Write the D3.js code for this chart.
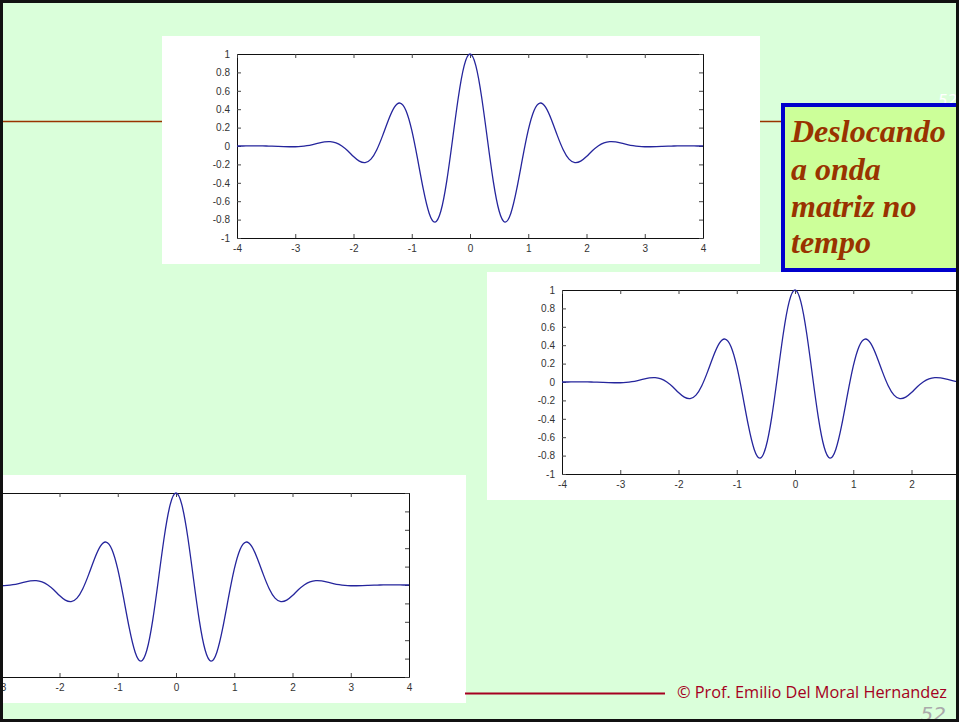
<!DOCTYPE html>
<html>
<head>
<meta charset="utf-8">
<script src="https://cdn.jsdelivr.net/npm/d3@7"></script>
<style>
  html, body { margin: 0; padding: 0; background: #daffda; overflow: hidden; }
  svg { display: block; }
</style>
</head>
<body>
<div id="slide"></div>
<script>
// wavelet samples (t from -4 to 4)
const tValues = [-4.0, -3.9, -3.8, -3.7, -3.6, -3.5, -3.4, -3.3, -3.2, -3.1,
  -3.0, -2.9, -2.8, -2.7, -2.6, -2.5, -2.4, -2.3, -2.2, -2.1,
  -2.0, -1.9, -1.8, -1.7, -1.6, -1.5, -1.4, -1.3, -1.2, -1.1,
  -1.0, -0.9, -0.8, -0.7, -0.6, -0.5, -0.4, -0.3, -0.2, -0.1,
  0.0, 0.1, 0.2, 0.3, 0.4, 0.5, 0.6, 0.7, 0.8, 0.9,
  1.0, 1.1, 1.2, 1.3, 1.4, 1.5, 1.6, 1.7, 1.8, 1.9,
  2.0, 2.1, 2.2, 2.3, 2.4, 2.5, 2.6, 2.7, 2.8, 2.9,
  3.0, 3.1, 3.2, 3.3, 3.4, 3.5, 3.6, 3.7, 3.8, 3.9, 4.0];

const waveValues = [0.000, 0.000, 0.001, 0.001, 0.001, 0.000, -0.001, -0.003, -0.006, -0.008,
  -0.008, -0.005, 0.003, 0.016, 0.031, 0.044, 0.047, 0.034, 0.000, -0.052,
  -0.114, -0.164, -0.180, -0.142, -0.040, 0.113, 0.283, 0.420, 0.467, 0.387,
  0.172, -0.141, -0.475, -0.733, -0.827, -0.707, -0.384, 0.068, 0.530, 0.873,
  1.000, 0.873, 0.530, 0.068, -0.384, -0.707, -0.827, -0.733, -0.475, -0.141,
  0.172, 0.387, 0.467, 0.420, 0.283, 0.113, -0.040, -0.142, -0.180, -0.164,
  -0.114, -0.052, 0.000, 0.034, 0.047, 0.044, 0.031, 0.016, 0.003, -0.005,
  -0.008, -0.008, -0.006, -0.003, -0.001, 0.000, 0.001, 0.001, 0.001, 0.000, 0.000];

const xTicks = [-4, -3, -2, -1, 0, 1, 2, 3, 4];
const yTicks = [1, 0.8, 0.6, 0.4, 0.2, 0, -0.2, -0.4, -0.6, -0.8, -1];

const boxLines = ["Deslocando", "a onda", "matriz no", "tempo"];
const footerText = "\u00A9 Prof. Emilio Del Moral Hernandez";
const pageNumber = "52";

const W = 959, H = 722;

const svg = d3.select("#slide")
  .append("svg")
  .attr("width", W)
  .attr("height", H);

svg.append("rect")
  .attr("width", W)
  .attr("height", H)
  .attr("fill", "#daffda");

// brown rule across the top (runs behind the first plot)
svg.append("line")
  .attr("x1", 2).attr("x2", 784)
  .attr("y1", 121.5).attr("y2", 121.5)
  .attr("stroke", "#993300")
  .attr("stroke-width", 1.5);

// ghost page number behind the text box
svg.append("text")
  .attr("x", 938).attr("y", 106)
  .attr("font-family", "DejaVu Sans, sans-serif")
  .attr("font-style", "italic")
  .attr("font-size", 15)
  .attr("fill", "#ffffff")
  .text(pageNumber);

// each figure: white sheet 598x228, axes box 466x184 at (75,18)
const panels = [
  {x: 162, y: 36},
  {x: 487, y: 272},
  {x: -132, y: 475}
];

const line = d3.line()
  .curve(d3.curveNatural)
  .x(d => d.x)
  .y(d => d.y);

// matlab style labels: 1, 0.8, 0, -1 with a plain hyphen
const fmt = d => String(d);

panels.forEach(function(p) {
  const g = svg.append("g").attr("transform", `translate(${p.x},${p.y})`);

  g.append("rect")
    .attr("width", 598)
    .attr("height", 228)
    .attr("fill", "#ffffff");

  const plot = g.append("g").attr("transform", "translate(75,18)");
  const pw = 466, ph = 184;

  const x = d3.scaleLinear().domain([-4, 4]).range([0, pw]);
  const y = d3.scaleLinear().domain([-1, 1]).range([ph, 0]);

  const bottomAxis = d3.axisBottom(x).tickValues(xTicks).tickFormat(fmt).tickSizeInner(-4).tickSizeOuter(0).tickPadding(7);
  const leftAxis = d3.axisLeft(y).tickValues(yTicks).tickFormat(fmt).tickSizeInner(-4).tickSizeOuter(0).tickPadding(7);
  const topAxis = d3.axisTop(x).tickValues(xTicks).tickSizeInner(-4).tickSizeOuter(0).tickFormat("");
  const rightAxis = d3.axisRight(y).tickValues(yTicks).tickSizeInner(-4).tickSizeOuter(0).tickFormat("");

  plot.append("g").attr("transform", `translate(0,${ph})`).call(bottomAxis);
  plot.append("g").call(leftAxis);
  plot.append("g").call(topAxis);
  plot.append("g").attr("transform", `translate(${pw},0)`).call(rightAxis);

  plot.selectAll(".domain").attr("stroke", "#111").attr("stroke-width", 1);
  plot.selectAll(".tick line").attr("stroke", "#444");
  plot.selectAll(".tick text")
    .attr("font-family", "Liberation Sans, Arial, sans-serif")
    .attr("font-size", 10)
    .attr("fill", "#333");

  const pts = tValues.map((t, i) => ({x: x(t), y: y(waveValues[i])}));
  plot.append("path")
    .datum(pts)
    .attr("fill", "none")
    .attr("stroke", "#25259c")
    .attr("stroke-width", 1.3)
    .attr("d", line);
});

// labels that land completely off the slide are never seen, drop them
svg.selectAll(".tick text").each(function() {
  const r = this.getBoundingClientRect();
  if (r.right <= 0 || r.left >= W) d3.select(this).remove();
});

// text box
const box = svg.append("g");
box.append("rect")
  .attr("x", 783).attr("y", 105)
  .attr("width", 180).attr("height", 165)
  .attr("fill", "#ccff99")
  .attr("stroke", "#0000cc")
  .attr("stroke-width", 4);

const boxBaselines = [142, 180, 217, 253];
box.selectAll("text.box")
  .data(boxLines)
  .enter()
  .append("text")
  .attr("class", "box")
  .attr("x", 791)
  .attr("y", (d, i) => boxBaselines[i])
  .attr("font-family", "Liberation Serif, Times New Roman, serif")
  .attr("font-weight", "bold")
  .attr("font-style", "italic")
  .attr("font-size", 32)
  .attr("fill", "#993300")
  .text(d => d);

// footer
svg.append("line")
  .attr("x1", 465).attr("x2", 665)
  .attr("y1", 693.5).attr("y2", 693.5)
  .attr("stroke", "#a50021")
  .attr("stroke-width", 2);

svg.append("text")
  .attr("x", 677).attr("y", 698)
  .attr("font-family", "Open Sans, DejaVu Sans, sans-serif")
  .attr("font-size", 16)
  .attr("textLength", 270)
  .attr("lengthAdjust", "spacingAndGlyphs")
  .attr("fill", "#a50021")
  .text(footerText);

svg.append("text")
  .attr("x", 946).attr("y", 721)
  .attr("text-anchor", "end")
  .attr("font-family", "DejaVu Sans, sans-serif")
  .attr("font-style", "italic")
  .attr("font-size", 20)
  .attr("fill", "#aaaaaa")
  .text(pageNumber);

// slide frame
svg.append("rect")
  .attr("x", 1.5).attr("y", 1.5)
  .attr("width", W - 3).attr("height", H - 3)
  .attr("fill", "none")
  .attr("stroke", "#111")
  .attr("stroke-width", 3);
</script>
</body>
</html>
